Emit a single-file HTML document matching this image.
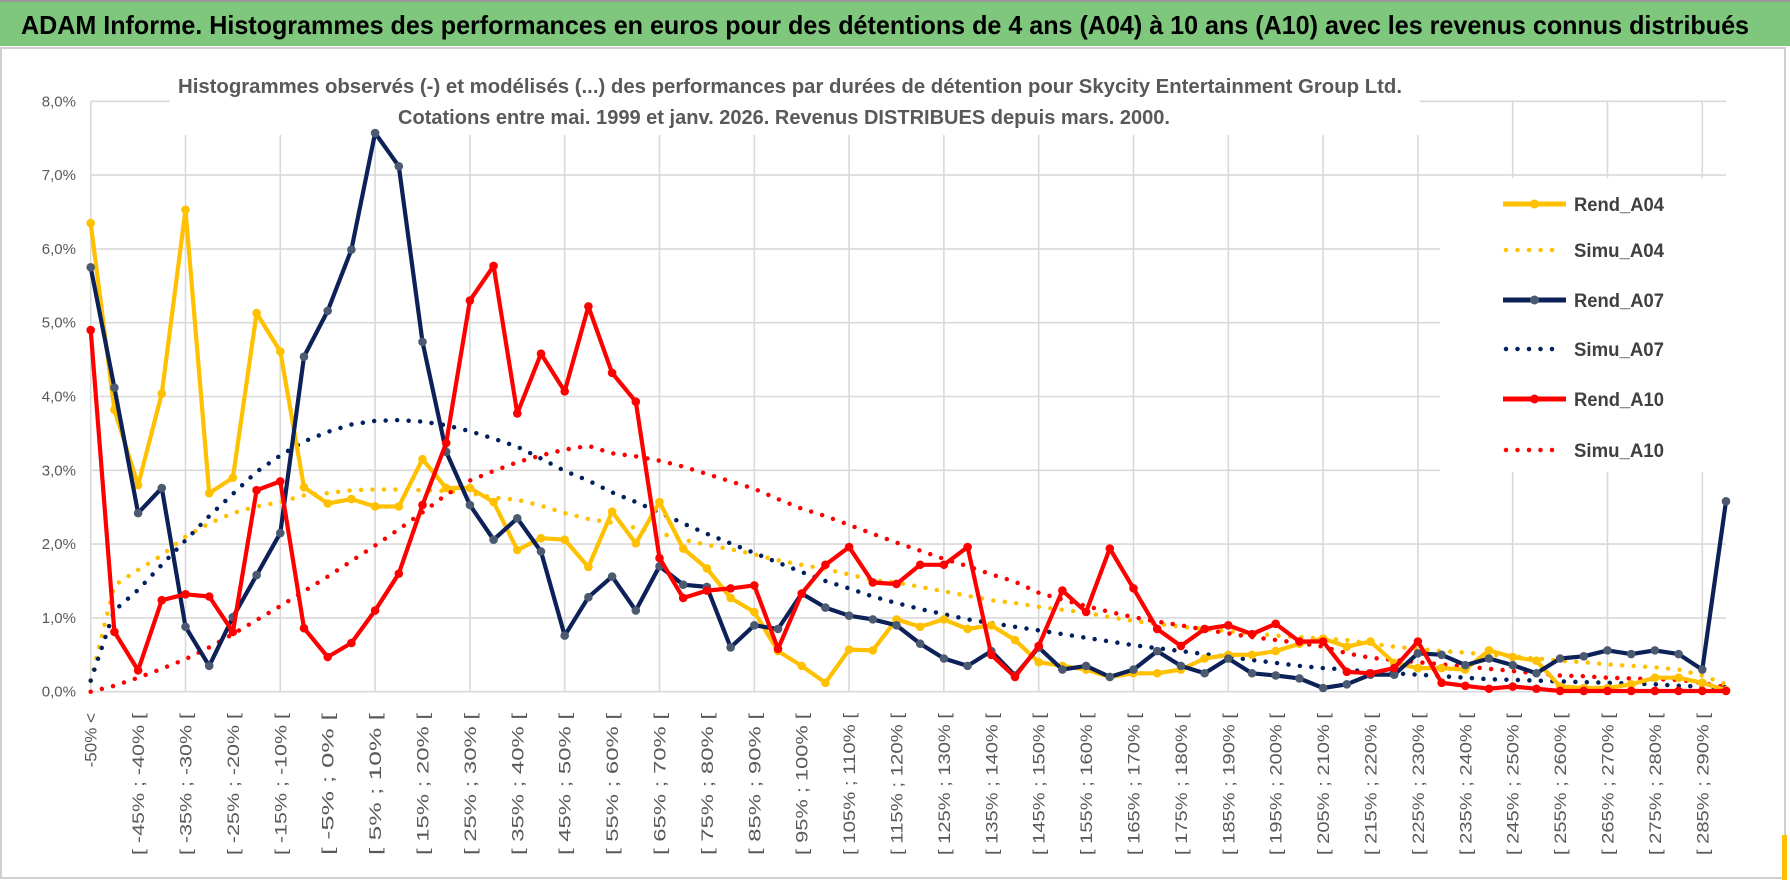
<!DOCTYPE html>
<html><head><meta charset="utf-8">
<style>
html,body{margin:0;padding:0;background:#fff;}
svg{display:block;font-family:"Liberation Sans",sans-serif;}
</style></head>
<body>
<svg id="chart" width="1790" height="888" viewBox="0 0 1790 888" xmlns="http://www.w3.org/2000/svg">
  <rect x="0" y="0" width="1790" height="888" fill="#ffffff"/>
  <rect x="0" y="0" width="1790" height="46" fill="#7ec77c"/>
  <line x1="0" y1="1" x2="1790" y2="1" stroke="#9a9a9a" stroke-width="2"/>
  <text x="21" y="34" font-size="26" font-weight="bold" fill="#000" textLength="1728" lengthAdjust="spacingAndGlyphs">ADAM Informe. Histogrammes des performances en euros pour des détentions de 4 ans (A04) à 10 ans (A10) avec les revenus connus distribués</text>
  <rect x="1" y="48" width="1784" height="830" fill="none" stroke="#d0d0d0" stroke-width="2"/>
  <g id="grid"></g>
  <rect x="170" y="52" width="1250" height="83" fill="#fff"/>
  <text x="178" y="93" font-size="20" font-weight="bold" fill="#595959" textLength="1224" lengthAdjust="spacingAndGlyphs">Histogrammes observés (-) et modélisés (...) des performances par durées de détention pour Skycity Entertainment Group Ltd.</text>
  <text x="398" y="124" font-size="20" font-weight="bold" fill="#595959" textLength="772" lengthAdjust="spacingAndGlyphs">Cotations entre mai. 1999 et janv. 2026.  Revenus DISTRIBUES depuis mars. 2000.</text>
  <g id="ylabels"></g>
  <g id="xlabels"></g>
  <g id="series"></g>
  <g id="legend"></g>
  <rect x="1782" y="835" width="5" height="45" fill="#ffc000"/>
</svg>
<script>
// ---- data ----
const rendA04 = [6.35,3.82,2.80,4.04,6.53,2.69,2.90,5.13,4.61,2.77,2.55,2.61,2.51,2.51,3.15,2.76,2.76,2.57,1.92,2.08,
 2.06,1.69,2.44,2.01,2.57,1.94,1.67,1.27,1.08,0.55,0.35,0.12,0.57,0.56,0.98,0.88,0.98,0.85,0.90,0.70,
 0.40,0.35,0.30,0.20,0.25,0.25,0.30,0.45,0.50,0.50,0.55,0.65,0.72,0.61,0.68,0.39,0.32,0.32,0.30,0.56,
 0.47,0.42,0.07,0.05,0.05,0.10,0.19,0.19,0.12,0.02];
const simuA04 = [0.15,1.44,1.65,1.85,2.10,2.28,2.42,2.51,2.57,2.66,2.69,2.73,2.74,2.74,2.73,2.72,2.69,2.63,2.60,2.52,
 2.42,2.34,2.29,2.22,2.15,2.06,1.99,1.93,1.86,1.78,1.72,1.66,1.59,1.51,1.48,1.42,1.36,1.30,1.24,1.20,
 1.15,1.11,1.07,1.01,0.96,0.92,0.88,0.85,0.82,0.79,0.76,0.74,0.72,0.70,0.65,0.61,0.58,0.55,0.53,0.50,
 0.48,0.45,0.42,0.40,0.37,0.35,0.33,0.30,0.22,0.10];
const rendA07 = [5.75,4.12,2.42,2.76,0.88,0.35,1.01,1.58,2.15,4.54,5.16,5.99,7.57,7.12,4.74,3.25,2.53,2.06,2.35,1.90,
 0.76,1.28,1.56,1.10,1.70,1.45,1.42,0.60,0.90,0.85,1.33,1.14,1.03,0.98,0.90,0.65,0.45,0.35,0.55,0.22,
 0.60,0.30,0.35,0.20,0.30,0.55,0.35,0.25,0.45,0.25,0.22,0.18,0.05,0.10,0.23,0.23,0.52,0.50,0.36,0.45,
 0.36,0.25,0.45,0.48,0.56,0.51,0.56,0.51,0.30,2.58];
const simuA07 = [0.15,1.10,1.38,1.72,2.05,2.38,2.68,2.98,3.20,3.39,3.52,3.62,3.67,3.68,3.66,3.61,3.53,3.43,3.32,3.16,
 2.99,2.86,2.70,2.57,2.43,2.28,2.14,2.01,1.88,1.75,1.62,1.50,1.40,1.29,1.20,1.12,1.05,0.98,0.93,0.88,
 0.83,0.78,0.73,0.68,0.63,0.59,0.55,0.51,0.47,0.43,0.39,0.35,0.32,0.30,0.27,0.25,0.23,0.21,0.19,0.17,
 0.16,0.15,0.14,0.13,0.12,0.11,0.10,0.08,0.07,0.06];
const rendA10 = [4.90,0.81,0.29,1.24,1.32,1.29,0.81,2.73,2.85,0.86,0.47,0.66,1.10,1.60,2.53,3.37,5.30,5.77,3.77,4.58,
 4.07,5.22,4.32,3.93,1.81,1.27,1.37,1.40,1.44,0.58,1.33,1.72,1.96,1.48,1.46,1.72,1.72,1.96,0.50,0.20,
 0.62,1.37,1.08,1.94,1.40,0.85,0.62,0.85,0.90,0.78,0.92,0.68,0.68,0.27,0.25,0.32,0.68,0.12,0.08,0.04,
 0.07,0.04,0.01,0.01,0.01,0.01,0.01,0.01,0.01,0.01];
const simuA10 = [0.00,0.08,0.19,0.31,0.44,0.60,0.78,0.97,1.16,1.36,1.56,1.77,1.98,2.20,2.43,2.67,2.86,2.99,3.11,3.20,
 3.28,3.33,3.23,3.19,3.13,3.05,2.95,2.85,2.75,2.61,2.48,2.38,2.26,2.14,2.02,1.91,1.80,1.70,1.59,1.49,
 1.34,1.25,1.16,1.08,1.01,0.95,0.90,0.84,0.79,0.74,0.70,0.66,0.61,0.52,0.46,0.43,0.40,0.37,0.34,0.31,
 0.28,0.25,0.22,0.21,0.19,0.18,0.17,0.16,0.12,0.06];
const yTicks = [0,1,2,3,4,5,6,7,8];
const yTickLabels = ["0,0%","1,0%","2,0%","3,0%","4,0%","5,0%","6,0%","7,0%","8,0%"];
const categories = ["-50% <"];
for (let k = 1; k < 70; k++) { const a = -50 + 5*(k-1); categories.push("[ " + a + "% ; " + (a+5) + "% ["); }

// ---- axes ----
const NS = "http://www.w3.org/2000/svg";
const X0 = 90.7, DX = 23.7, Y0 = 691.7, DY = 73.8;
function xPos(i){ return X0 + DX*i; }
function yPos(v){ return Y0 - DY*v; }
function mk(tag, attrs, parent){ const e = document.createElementNS(NS, tag); for (const k in attrs) e.setAttribute(k, attrs[k]); parent.appendChild(e); return e; }

const grid = document.getElementById('grid');
const xEnd = xPos(categories.length-1);
yTicks.forEach(t => {
  const l = mk('line', {x1:X0, x2:xEnd, y1:yPos(t), y2:yPos(t), stroke:'#d9d9d9','stroke-width':1.6}, grid);
  
  
});
for (let i = 0; i < categories.length; i += 4) {
  const l = mk('line', {x1:xPos(i), x2:xPos(i), y1:yPos(8), y2:yPos(0), stroke:'#d9d9d9','stroke-width':1.6}, grid);
  
  
}
const yl = document.getElementById('ylabels');
yTicks.forEach((t, j) => {
  const tx = mk('text', {x:76, y:yPos(t)+5, 'font-size':15, fill:'#595959','text-anchor':'end'}, yl);
  tx.textContent = yTickLabels[j];
  
  
});
const xl = document.getElementById('xlabels');
for (let i = 0; i < categories.length; i += 2) {
  const x = xPos(i) + 6, y = 713;
  const attrs = {x:x, y:y, 'font-size':17, fill:'#595959','text-anchor':'end', transform:'rotate(-90 '+x+' '+y+')'};
  if (i > 0) { attrs.textLength = 142; attrs.lengthAdjust = 'spacingAndGlyphs'; }
  const tx = mk('text', attrs, xl);
  tx.textContent = categories[i];
  
  
}

// ---- series ----
const sg = document.getElementById('series');
function pts(arr){ return arr.map((v,i) => xPos(i).toFixed(1)+','+yPos(v).toFixed(1)).join(' '); }
function dotted(arr, color, name){
  const p = mk('polyline', {points:pts(arr), fill:'none', stroke:color, 'stroke-width':4.5, 'stroke-dasharray':'0 11.5', 'stroke-linecap':'round','stroke-linejoin':'round'}, sg);
  
  
}
function solid(arr, color, mcolor, name){
  const p = mk('polyline', {points:pts(arr), fill:'none', stroke:color, 'stroke-width':4.2, 'stroke-linejoin':'round'}, sg);
  
  
  arr.forEach((v,i) => {
    const c = mk('circle', {cx:xPos(i), cy:yPos(v), r:4.3, fill:mcolor}, sg);
    
    
  });
}
dotted(simuA04, '#ffc000', 'simu-a04-line');
dotted(simuA07, '#002060', 'simu-a07-line');
dotted(simuA10, '#ff0000', 'simu-a10-line');
solid(rendA04, '#ffc000', '#ffc000', 'rend-a04-line');
solid(rendA07, '#0b2158', '#4b5a70', 'rend-a07-line');
solid(rendA10, '#ff0000', '#ff0000', 'rend-a10-line');

// ---- legend ----
const lg = document.getElementById('legend');
const lbg = mk('rect', {x:1440, y:178, width:340, height:294, fill:'#fff'}, lg);


const legendNames = ['Rend_A04','Simu_A04','Rend_A07','Simu_A07','Rend_A10','Simu_A10'];
const legendColors = ['#ffc000','#ffc000','#0b2158','#002060','#ff0000','#ff0000'];
const legendMarkers = ['#ffc000',null,'#4b5a70',null,'#ff0000',null];
const legendY = [204,250,300,349,399,450];
legendNames.forEach((n,j) => {
  const y = legendY[j];
  if (legendMarkers[j]) {
    const l = mk('line', {x1:1503, x2:1566, y1:y, y2:y, stroke:legendColors[j], 'stroke-width':5}, lg);
    
    
    const c = mk('circle', {cx:1534.5, cy:y, r:4.5, fill:legendMarkers[j]}, lg);
    
    
  } else {
    const l = mk('line', {x1:1506, x2:1562, y1:y, y2:y, stroke:legendColors[j], 'stroke-width':4.5, 'stroke-dasharray':'0 11.5','stroke-linecap':'round'}, lg);
    
    
  }
  const t = mk('text', {x:1574, y:y+7, 'font-size':19, 'font-weight':'bold', fill:'#404040', textLength:90, lengthAdjust:'spacingAndGlyphs'}, lg);
  t.textContent = n;
  
  
});
</script>
</body></html>
